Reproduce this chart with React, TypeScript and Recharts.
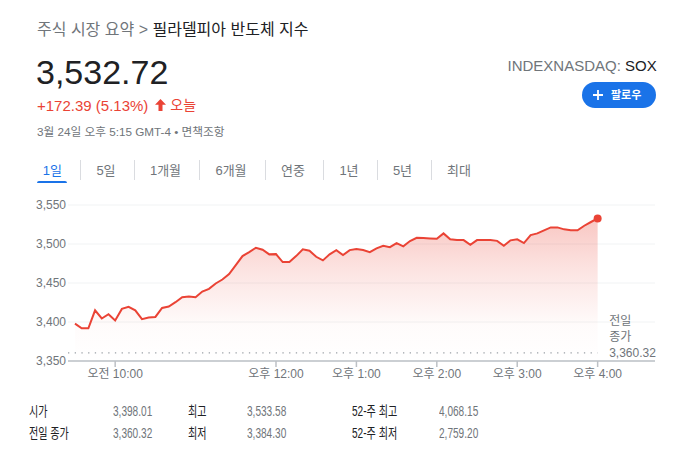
import React from "react";
import {
  AreaChart,
  Area,
  XAxis,
  YAxis,
  CartesianGrid,
  ReferenceLine,
  ReferenceDot,
} from "recharts";

// 5-minute closing values from 9:30 to 16:00
const prices = [
  3398.0, 3392, 3392, 3415, 3404.5, 3410, 3402, 3416.8, 3419.4, 3415,
  3403.6, 3405.7, 3406.5, 3418, 3419.9, 3425.4, 3431.8, 3432.7, 3431.8, 3439,
  3442.5, 3449.4, 3454.5, 3461.4, 3473, 3484.5, 3489.6, 3495.2, 3492.6, 3486.7,
  3487, 3476.8, 3476.8, 3484.5, 3493.1, 3491.3, 3483.6, 3479, 3486.7, 3492,
  3485.8, 3492.2, 3493.5, 3492.2, 3489.6, 3494.4, 3497.7, 3496, 3501.2, 3497,
  3503.8, 3508, 3507.6, 3507.2, 3506.7, 3513.6, 3506, 3505, 3505, 3499,
  3505, 3505, 3505, 3504, 3497.7, 3504.7, 3506, 3501.2, 3511.5, 3513.6,
  3517.5, 3521.3, 3521.3, 3518.8, 3517.5, 3517.5, 3523.4, 3528.2, 3532.72,
];
// minutes after 9:30 for each sample
const minutes = prices.map((_, i) => i * 5);

const xTickValues = [30, 150, 210, 270, 330, 390];
const xTickLabels = ["오전 10:00", "오후 12:00", "오후 1:00", "오후 2:00", "오후 3:00", "오후 4:00"];
const xDomain = [-5.2, 432.8];
const yTicks = [3350, 3400, 3450, 3500, 3550];
const yDomain = [3350, 3550];
const prevClose = 3360.32;
const prevCloseLabel = "3,360.32";

const tabs = ["1일", "5일", "1개월", "6개월", "연중", "1년", "5년", "최대"];
const statLabels = [
  ["시가", "전일 종가"],
  ["최고", "최저"],
  ["52-주 최고", "52-주 최저"],
];
const statValues = [
  ["3,398.01", "3,360.32"],
  ["3,533.58", "3,384.30"],
  ["4,068.15", "2,759.20"],
];

const data = prices.map((p, i) => ({ t: minutes[i], price: p }));

const FONT = "Arial, 'Liberation Sans', 'Noto Sans CJK KR', sans-serif";
const RED = "#ea4335";
const GRAY = "#70757a";
const DARK = "#202124";
const BLUE = "#1a73e8";

const tabCenters = [52.3, 106, 165.5, 231, 293, 349, 402.5, 459];
const tabSeps = [80, 133.7, 198.7, 264.7, 322.7, 376.7, 431];
const statLabelX = [29.3, 188.3, 351.7];
const statValueX = [113.3, 246.7, 439.3];
const statRowTop = [403.5, 425.8];

function PrevCloseLabel(props: any) {
  const vb = props.viewBox || {};
  const x = (vb.x || 0) + (vb.width || 0) + 11.5;
  const y = vb.y || 0;
  const style = { fontFamily: FONT, fontSize: 12, fill: GRAY };
  return (
    <g>
      <text x={x} y={y - 32} dy="0.35em" style={style}>전일</text>
      <text x={x} y={y - 16} dy="0.35em" style={style}>종가</text>
      <text x={x} y={y} dy="0.35em" style={style}>{prevCloseLabel}</text>
    </g>
  );
}

export default function App() {
  const abs = (extra: any) => ({ position: "absolute" as const, lineHeight: 1, whiteSpace: "nowrap" as const, fontFamily: FONT, ...extra });
  return (
    <div style={{ position: "absolute", left: 0, top: 0, width: 687, height: 449, background: "#fff", overflow: "hidden" }}>
      {/* chart */}
      <div style={{ position: "absolute", left: 0, top: 190 }}>
        <AreaChart width={687} height={201} data={data} margin={{ top: 15, right: 32, bottom: 0, left: 0 }}>
          <defs>
            <linearGradient id="soxFill" x1="0" y1="0" x2="0" y2="1">
              <stop offset="0%" stopColor={RED} stopOpacity={0.3} />
              <stop offset="35%" stopColor={RED} stopOpacity={0.15} />
              <stop offset="75%" stopColor={RED} stopOpacity={0.02} />
              <stop offset="100%" stopColor={RED} stopOpacity={0} />
            </linearGradient>
          </defs>
          <CartesianGrid vertical={false} stroke="#f1f3f4" strokeWidth={1} />
          <XAxis
            dataKey="t"
            type="number"
            domain={xDomain}
            ticks={xTickValues}
            allowDataOverflow
            height={30}
            axisLine={{ stroke: "#bdc1c6", strokeWidth: 1.5 }}
            tickLine={{ stroke: "#bdc1c6", strokeWidth: 1.5 }}
            tickSize={6}
            tickMargin={2}
            tick={{ fill: GRAY, fontSize: 12, fontFamily: FONT }}
            tickFormatter={(v: number) => xTickLabels[xTickValues.indexOf(v)] ?? ""}
            interval={0}
          />
          <YAxis
            domain={yDomain}
            ticks={yTicks}
            width={68}
            axisLine={false}
            tickLine={false}
            tickSize={0}
            tickMargin={2}
            tick={{ fill: GRAY, fontSize: 12, fontFamily: FONT }}
            tickFormatter={(v: number) => v.toLocaleString("en-US")}
            interval={0}
          />
          <ReferenceLine
            segment={[
              { x: xDomain[0], y: prevClose },
              { x: minutes[minutes.length - 1], y: prevClose },
            ]}
            stroke="#9aa0a6"
            strokeWidth={1.3}
            strokeDasharray="1.3 5.4"
            label={(p: any) => <PrevCloseLabel {...p} />}
          />
          <Area
            type="linear"
            dataKey="price"
            stroke={RED}
            strokeWidth={2}
            fill="url(#soxFill)"
            fillOpacity={1}
            dot={false}
            activeDot={false}
            isAnimationActive={false}
          />
          <ReferenceDot
            x={minutes[minutes.length - 1]}
            y={prices[prices.length - 1]}
            r={4}
            fill={RED}
            stroke="none"
          />
        </AreaChart>
      </div>

      {/* header */}
      <div style={abs({ left: 37, top: 22, fontSize: 16, color: GRAY })}>
        주식 시장 요약 &gt; <span style={{ color: DARK }}>필라델피아 반도체 지수</span>
      </div>
      <div style={abs({ left: 36, top: 54.7, fontSize: 34, color: DARK })}>3,532.72</div>
      <div style={abs({ left: 37, top: 97.5, fontSize: 15, color: RED, display: "flex", alignItems: "center" })}>
        <span>+172.39 (5.13%)</span>
        <svg width={11} height={12} viewBox="0 0 11 12" style={{ marginLeft: 7, marginRight: 4 }}>
          <path d="M5.5 0 L11 5.8 L7.5 5.8 L7.5 12 L3.5 12 L3.5 5.8 L0 5.8 Z" fill={RED} />
        </svg>
        <span style={{ fontSize: 14 }}>오늘</span>
      </div>
      <div style={abs({ left: 37, top: 125.5, fontSize: 11.7, color: GRAY })}>
        3월 24일 오후 5:15 GMT-4 • 면책조항
      </div>
      <div style={abs({ right: 30.3, top: 57.5, fontSize: 15, color: GRAY })}>
        INDEXNASDAQ: <span style={{ color: DARK }}>SOX</span>
      </div>
      <div
        style={abs({
          left: 582,
          top: 82,
          width: 74,
          height: 26,
          borderRadius: 13,
          background: BLUE,
          color: "#fff",
          fontSize: 11,
          fontWeight: 700,
          display: "flex",
          alignItems: "center",
        })}
      >
        <svg width={10} height={10} viewBox="0 0 10 10" style={{ marginLeft: 11, marginRight: 8 }}>
          <path d="M5 0 V10 M0 5 H10" stroke="#fff" strokeWidth={1.8} />
        </svg>
        <span>팔로우</span>
      </div>

      {/* tabs */}
      {tabs.map((t, i) => (
        <div
          key={t}
          style={abs({
            left: tabCenters[i] - 30,
            width: 60,
            top: 163.5,
            textAlign: "center",
            fontSize: 13,
            color: i === 0 ? BLUE : GRAY,
          })}
        >
          {t}
        </div>
      ))}
      <div style={{ position: "absolute", left: 37, top: 180.5, width: 30, height: 2.5, background: BLUE, borderRadius: "2px 2px 0 0" }} />
      {tabSeps.map((x) => (
        <div key={x} style={{ position: "absolute", left: x, top: 159.5, width: 1, height: 20.5, background: "#dadce0" }} />
      ))}

      {/* stats */}
      {statLabels.map((col, ci) =>
        col.map((lab, ri) => (
          <React.Fragment key={lab}>
            <div
              style={abs({
                left: statLabelX[ci],
                top: statRowTop[ri],
                fontSize: 14,
                color: DARK,
                transform: "scaleX(0.72)",
                transformOrigin: "left center",
              })}
            >
              {lab}
            </div>
            <div
              style={abs({
                left: statValueX[ci],
                top: statRowTop[ri],
                fontSize: 14,
                color: GRAY,
                transform: "scaleX(0.72)",
                transformOrigin: "left center",
              })}
            >
              {statValues[ci][ri]}
            </div>
          </React.Fragment>
        ))
      )}
    </div>
  );
}
